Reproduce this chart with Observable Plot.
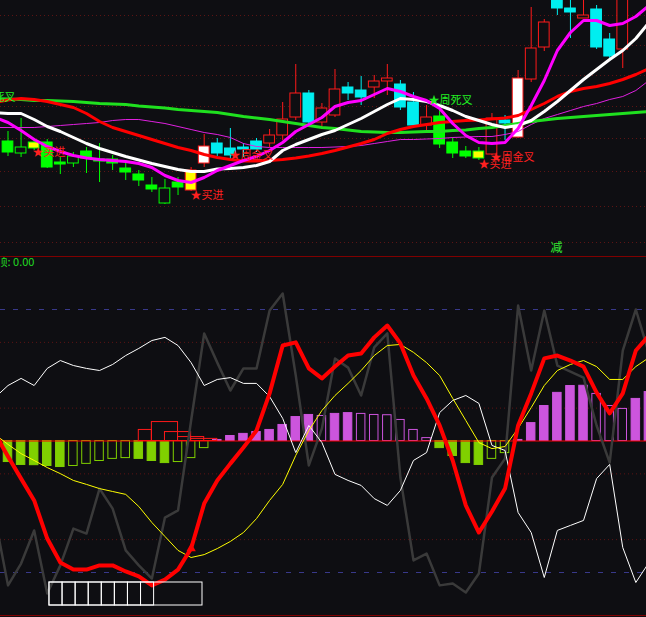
<!DOCTYPE html>
<html>
<head>
<meta charset="utf-8">
<script src="https://cdn.jsdelivr.net/npm/d3@7"></script>
<script src="https://cdn.jsdelivr.net/npm/@observablehq/plot@0.6"></script>
<style>
  html, body { margin: 0; padding: 0; background: #0e0e12; overflow: hidden; }
  #chart { width: 646px; height: 617px; }
  #chart svg { display: block; }
  .sep { height: 1px; background: #800000; }
</style>
</head>
<body>
<div id="chart">
  <div id="price"></div>
  <div class="sep"></div>
  <div id="osc"></div>
  <div class="sep"></div>
</div>
<script>
// ---- daily candles (bar 0 is the first full bar on screen) ----
const openP  = [115,103,108,114,94,93,105,97,97,88, 82,71,53,74,66,93,113,108,109,115, 113,121,139,163,134,141,169,166,169,175, 172,154,131,140,114,105,98,102,136,119, 177,209,261,248,238,247,217,207,262,270];
const closeP = [104,109,114,89,92,100,98,95,93,84, 76,67,68,69,86,110,103,101,107,107, 121,137,163,134,148,167,163,159,175,178, 149,131,139,112,103,100,105,138,133,178, 208,234,248,244,241,209,200,261,275,285];
const highP  = [125,138,118,117,99,104,109,113,101,93, 86,79,77,79,89,122,118,128,113,118, 127,154,192,166,153,187,174,180,181,192, 176,164,151,146,119,110,109,143,141,186, 249,237,266,261,261,251,223,266,280,290];
const lowP   = [100,99,106,88,82,89,83,74,86,76, 70,64,52,61,65,89,100,96,99,104, 109,116,136,133,129,139,156,151,158,161, 146,130,126,108,98,98,96,101,116,118, 174,205,241,218,238,207,195,188,258,262];
// trend state per bar: g = weak (green), r = strong (red / cyan)
const trend = ["g","g","g","g","g","g","g","g","g","g","g","g","g","g",
               "r","r","r","r","r","r","r","r","r","r","r","r","r","r","r","r","r","r","r",
               "g","g","g","g",
               "r","r","r","r","r","r","r","r","r","r","r","r","r"];
const yellowBars = [2, 14, 36];
const whiteBars = [15, 39];

// ---- indicator series: these start one bar earlier (bar -1, just off the left edge) ----
const maGreen = [158, 157.5,157,156,156,155.5,155,154,153,152.5,152, 150.5,149.5,148.5,147,146,145,144,142,140,138.5, 137,135,133,131,129,128,126.5,125,124.5,124, 124,124.5,125,125,126,126.5,128,129,131,133, 135,136.5,138,139,140,141,142,143,144,145];
const maRed   = [154, 156.5,158,157,155,152,149,143,135,129,125, 121,117,113,109,106,102,99,97,95.5,95.5, 96,97,98.5,100.5,103,106,109.5,113,117,123, 127,130,132,134,135,136,136.5,137.5,138.5,141, 147,153,160,165,168,170,173,177,182,188];
const maWhite = [144, 143,143,137,130,125,119,113,108,104,100, 96.5,93,90,87,85,85,87.5,88,89,91, 95,106,112,117,122,126,132,138,145,152, 158,157,155,151,146,140,136,132,129,131, 136,145,155,166,177,187,197,206,218,234];
const maFast  = [139, 134,126,117,110,105,101,98.5,97,96,95, 93,89,81,76,74,79,86,91,96,100, 106,114,125,132,139,150,154,156,162,168, 165,160,156,148,133,121,114,113,114,128, 151,176,206,224,236,236,231,233,240,251];
const maThin  = [129, 129,129,129,130,131,132,133,134,136,137, 137,135,133,130,127,124,122,119,113,110, 109,109,109,109,109,109.5,110,111,113,115, 117,117,117.5,118,119,119.5,120,120,122,125, 132,138,142,146,150,153,157,160,166,176];
const priceGrid = [241, 211, 181, 150, 118, 85, 50, 14];

// ---- signal labels ----
const sigText  = ["★买进", "★买进", "★周金叉", "★周死叉", "★买进", "★周金叉"];
const sigX     = [1.87, 13.95, 16.93, 32.15, 35.97, 36.89];
const sigY     = [104, 61, 101, 156, 92, 99];
const sigColor = ["#ff2020", "#ff2020", "#ff2020", "#22ee22", "#ff2020", "#ff2020"];
const edgeText = "★周死叉", edgeX = 0.57, edgeY = 159;
const cutText = "减", cutX = 41.93, cutY = 8;

// ---- oscillator panel (lines start at bar -1 as well) ----
const osc = [52.9, 44.1,35.7,27.4,12.9,3.8,1.1,1.1,2.7,2.7,0.4, -1.5,-4.9,-2.7,1.1,9.1,26.2,35.0,41.4,47.5,54.0, 68.1,86.3,87.5,77.6,73.8,78.3,82.5,83.3,89.4,93.9, 87.1,74.9,66.2,55.9,42.6,25.5,15.2,23.2,31.9,55.9, 68.1,81.4,82.5,80.6,78.3,68.4,60.5,68.1,84.4,90.1];
const oscSignal = [52.5, 48.7,45.2,42.6,39.9,37.6,35.0,33.5,31.9,30.8,29.7, 25.1,19.0,13.7,8.4,5.7,6.8,9.1,11.8,15.2,20.5, 27.4,33.5,44.5,54.0,61.6,67.3,71.9,76.8,82.5,86.3, 86.7,83.7,79.8,74.9,66.2,57.8,49.4,47.1,47.9,54.8, 62.7,71.1,76.8,79.1,80.6,78.3,73.4,73.4,78.3,81.7];
const kLine = [66.5, 71.1,73.8,71.1,77.6,80.6,78.7,77.6,76.8,79.1,82.5, 85.2,88.2,89.4,86.3,79.8,71.1,73.4,74.1,71.9,71.9, 66.9,58.6,45.6,55.9,49.4,37.3,35.0,33.1,28.1,25.5, 31.2,42.6,45.6,60.8,65.4,67.3,64.3,48.3,46.4,22.8, 15.2,-1.9,16.0,17.9,19.8,35.7,41.1,9.5,-3.8,3.8];
const jLine = [20.9, -4.9,3.4,16.0,-8.0,2.7,16.7,14.8,31.9,24.3,8.4, 2.7,-2.3,20.9,23.6,57.8,90.9,79.8,69.2,77.6,77.6, 99.6,106.1,74.9,40.7,54.8,81.4,77.9,67.3,85.6,90.9, 36.1,4.6,7.2,-4.9,-4.2,-7.6,-0.4,36.1,43.3,101.5, 76.8,99.6,78.7,76.4,74.1,55.9,41.8,84.4,100.0,83.3];
// histogram starts at bar 0
const hist = [-8.0,-9.1,-9.2,-9.5,-9.9,-9.5,-8.7,-7.6,-6.8,-6.5, -6.8,-7.6,-8.4,-8.0,-6.5,-2.7,0.4,1.9,2.7,3.4, 4.2,6.1,9.1,9.9,9.5,10.3,10.6,10.3,9.9,9.8, 8.0,4.2,1.1,-2.7,-5.7,-8.4,-9.1,-6.8,-4.6,0.4, 6.8,13.3,18.3,20.9,21.0,17.9,13.3,12.2,16.0,18.6];
const boxFrom = [10, 11, 12, 13, 14];
const boxTo   = [11, 13, 14, 15, 16];
const boxTop  = [4.2, 7.2, 3.4, 1.5, 0.8];
const oscGrid = [12.5, 37.5, 62.5, 87.5];
const oscBands = [0, 100];
const midLevel = 50;
const topLabel = "顶: 0.00";
const gaugeFrom = 3.17, gaugeTo = 14.87, gaugeCells = 8, gaugeLow = -12.55, gaugeHigh = -3.8;

// ---- build ----
const BG = "#0e0e12";
const FONT = "'Noto Sans CJK SC', 'Noto Sans', sans-serif";
const idx = d3.range(openP.length);
const xScale = {domain: [-0.5734, 48.815], range: [0, 646], axis: null};

const candles = idx.map(i => {
  const up = closeP[i] >= openP[i];
  const line = trend[i] === "r" ? (up ? "#ff1a1a" : "#00eef0") : "#00ff00";
  let fill = up ? BG : line;
  if (yellowBars.includes(i)) fill = "#ffff00";
  if (whiteBars.includes(i)) fill = "#ffffff";
  return {i, open: openP[i], close: closeP[i], high: highP[i], low: lowP[i], line, fill};
});
// indicator arrays carry one leading value for bar -1
const series = arr => arr.map((v, k) => ({i: k - 1, v}));
const labels = sigText.map((t, k) => ({t, x: sigX[k], y: sigY[k], c: sigColor[k]}));

const price = Plot.plot({
  width: 646, height: 256, margin: 0,
  x: xScale,
  y: {domain: [0, 256], range: [256, 0], axis: null},
  color: {type: "identity"},
  style: {background: BG},
  marks: [
    Plot.ruleY(priceGrid, {stroke: "#5c1414", strokeDasharray: "1,3"}),
    Plot.ruleX(candles, {x: "i", y1: "low", y2: "high", stroke: "line"}),
    Plot.rect(candles, {x1: d => d.i - 0.41, x2: d => d.i + 0.41, y1: "open", y2: "close", fill: "fill", stroke: "line"}),
    Plot.line(series(maThin), {x: "i", y: "v", stroke: "#e020e0", strokeWidth: 1}),
    Plot.line(series(maGreen), {x: "i", y: "v", stroke: "#1fe01f", strokeWidth: 3}),
    Plot.line(series(maRed), {x: "i", y: "v", stroke: "#ff0000", strokeWidth: 3}),
    Plot.line(series(maWhite), {x: "i", y: "v", stroke: "#ffffff", strokeWidth: 3}),
    Plot.line(series(maFast), {x: "i", y: "v", stroke: "#ff00ff", strokeWidth: 3}),
    Plot.text(labels, {x: "x", y: "y", text: "t", fill: "c", fontSize: 11, fontFamily: FONT, textAnchor: "start", lineAnchor: "middle"}),
    Plot.text([edgeText], {x: () => edgeX, y: () => edgeY, text: d => d, fill: "#22ee22", fontSize: 11, fontFamily: FONT, textAnchor: "end", lineAnchor: "middle"}),
    Plot.text([cutText], {x: () => cutX, y: () => cutY, text: d => d, fill: "#33ee33", fontSize: 12, fontFamily: FONT, lineAnchor: "middle"})
  ]
});
document.getElementById("price").appendChild(price);

const bars = idx.map(i => {
  const h = hist[i];
  const hollow = i > 0 && (h >= 0 ? h < hist[i - 1] : h > hist[i - 1]);
  const c = h >= 0 ? "#cc55dd" : "#80d000";
  return {i, h, c, f: hollow ? "none" : c};
});
const boxes = boxFrom.map((a, k) => ({a, b: boxTo[k], t: boxTop[k]}));
const gauge = [{a: gaugeFrom, b: gaugeTo}].concat(d3.range(gaugeCells).map(k => ({a: gaugeFrom + k, b: gaugeFrom + k + 1})));

const oscPlot = Plot.plot({
  width: 646, height: 358, margin: 0,
  x: xScale,
  y: {domain: [-16.35, 119.77], range: [358, 0], axis: null},
  color: {type: "identity"},
  style: {background: BG},
  marks: [
    Plot.ruleY(oscGrid, {stroke: "#5c1414", strokeDasharray: "1,3"}),
    Plot.ruleY(oscBands, {stroke: "#3a3a8c", strokeDasharray: "5,8"}),
    Plot.rect(bars, {x1: d => d.i - 0.325, x2: d => d.i + 0.325, y1: () => midLevel, y2: d => midLevel + d.h, fill: "f", stroke: "c"}),
    Plot.rect(boxes, {x1: "a", x2: "b", y1: () => midLevel, y2: d => midLevel + d.t, fill: "none", stroke: "#ff1a1a"}),
    Plot.ruleY([midLevel], {stroke: "#ff0000"}),
    Plot.line(series(jLine), {x: "i", y: "v", stroke: "#3a3a3a", strokeWidth: 2.5}),
    Plot.line(series(kLine), {x: "i", y: "v", stroke: "#ffffff", strokeWidth: 1}),
    Plot.line(series(oscSignal), {x: "i", y: "v", stroke: "#ffff00", strokeWidth: 1}),
    Plot.line(series(osc), {x: "i", y: "v", stroke: "#ff0000", strokeWidth: 4, strokeLinejoin: "round"}),
    Plot.dot([14], {x: d => d, y: d => osc[d + 1], symbol: "triangle", r: 3.5, fill: "#ff0000"}),
    Plot.rect(gauge, {x1: "a", x2: "b", y1: () => gaugeLow, y2: () => gaugeHigh, fill: "none", stroke: "#ffffff"}),
    Plot.text([topLabel], {frameAnchor: "top-left", text: d => d, dx: -4, dy: 1, fill: "#22dd22", fontSize: 11, fontFamily: FONT, textAnchor: "start", lineAnchor: "top"})
  ]
});
document.getElementById("osc").appendChild(oscPlot);
</script>
</body>
</html>
